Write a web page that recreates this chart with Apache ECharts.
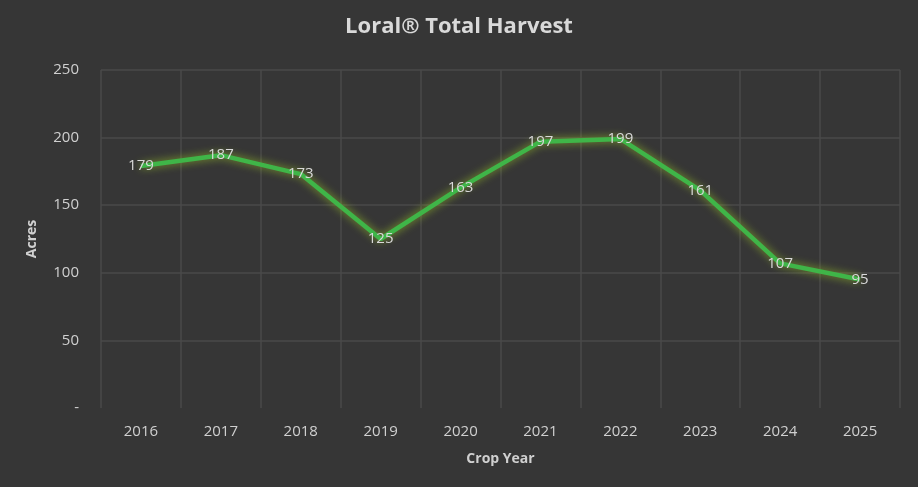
<!DOCTYPE html>
<html><head><meta charset="utf-8">
<script src="https://cdn.jsdelivr.net/npm/echarts@6/dist/echarts.min.js"></script>
<style>html,body{margin:0;padding:0;background:#363636;}#c{width:918px;height:487px;}</style>
</head><body><div id="c"></div>
<script>
const years = ['2016','2017','2018','2019','2020','2021','2022','2023','2024','2025'];
const acres = [179,187,173,125,163,197,199,161,107,95];
const yTicks = [0,50,100,150,200,250];

const chart = echarts.init(document.getElementById('c'));
chart.setOption({
  backgroundColor:'#363636',
  animation:false,
  title:{text:'Loral® Total Harvest',left:'center',top:11,
    textStyle:{color:'#d9d9d9',fontSize:22,fontWeight:'bold',fontFamily:'Open Sans'}},
  grid:{left:101,right:18,top:70,bottom:79},
  xAxis:{type:'category',data:years,boundaryGap:true,
    name:'Crop Year',nameLocation:'middle',nameGap:44,
    nameTextStyle:{color:'#d0d0d0',fontSize:14,fontWeight:'bold',fontFamily:'Open Sans'},
    axisLine:{show:false},axisTick:{show:false},
    axisLabel:{color:'#d0d0d0',fontSize:15,margin:16,fontFamily:'Open Sans'},
    splitLine:{show:true,interval:0,lineStyle:{color:'#4a4a4a',width:1.5}}},
  yAxis:{type:'value',min:0,max:250,interval:50,
    name:'Acres',nameLocation:'middle',nameGap:62,
    nameTextStyle:{color:'#d0d0d0',fontSize:14,fontWeight:'bold',fontFamily:'Open Sans'},
    axisLine:{show:false},axisTick:{show:false},
    axisLabel:{color:'#d0d0d0',fontSize:15,margin:22,fontFamily:'Open Sans',
      formatter:v=>yTicks.indexOf(v)===0?'-':String(v)},
    splitLine:{lineStyle:{color:['rgba(0,0,0,0)','#4a4a4a','#4a4a4a','#4a4a4a','#4a4a4a','#4a4a4a'],width:1.5}}},
  series:[{type:'line',data:acres,symbol:'circle',symbolSize:2,showSymbol:true,
    itemStyle:{color:'rgba(0,0,0,0)',borderWidth:0},
    lineStyle:{color:'#3fb548',width:4.5,shadowColor:'rgba(150,190,40,0.85)',shadowBlur:8},
    label:{show:true,position:'inside',color:'#d9d9d9',fontSize:15,fontFamily:'Open Sans'}}]
});
</script></body></html>
